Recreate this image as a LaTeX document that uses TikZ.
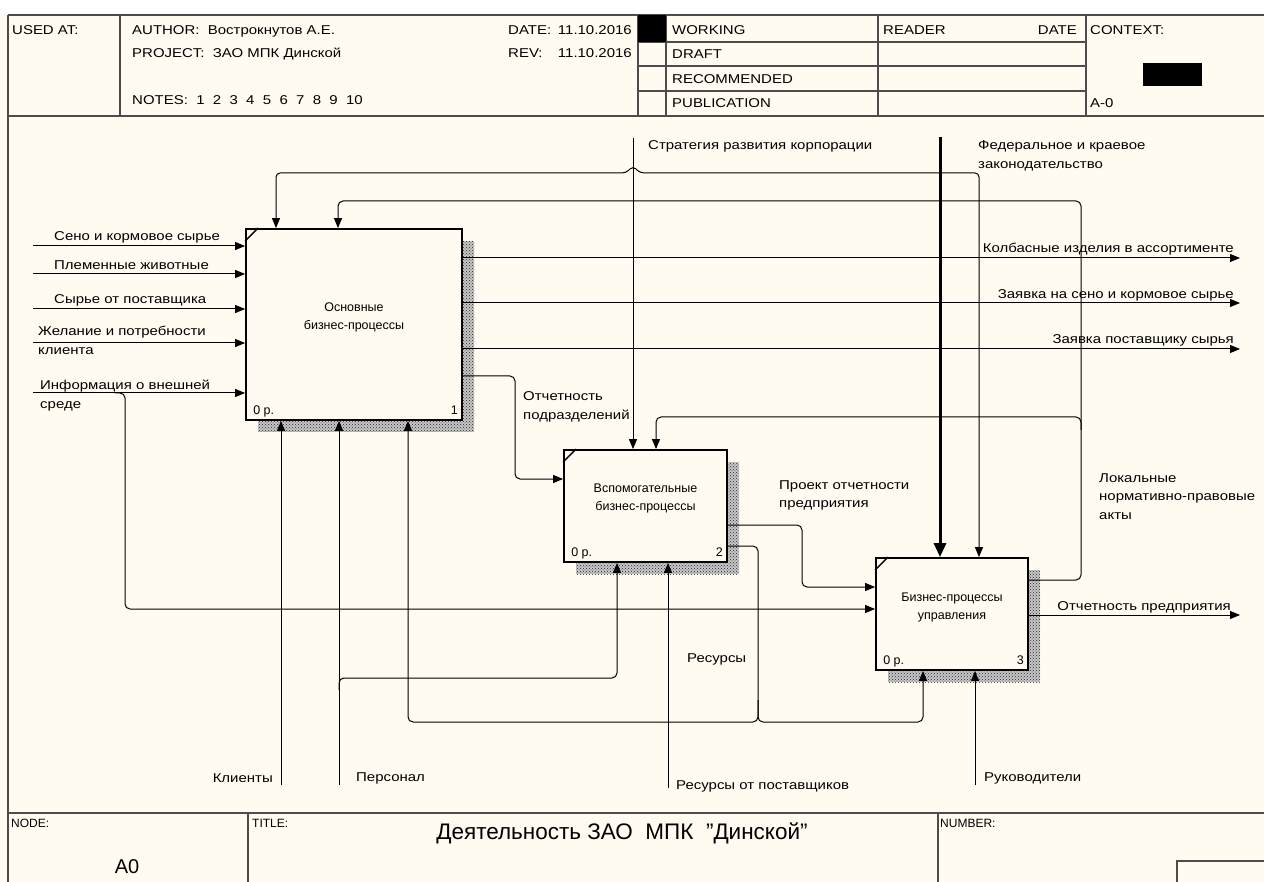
\documentclass[tikz,border=0pt]{standalone}
\usepackage{fontspec}
\setmainfont{Liberation Sans}
\newfontfamily\lblfont[FakeStretch=1.17]{Liberation Sans}
\usetikzlibrary{arrows.meta,patterns,shadows}
\definecolor{idefbg}{RGB}{255,251,240}
\tikzset{
  idefbox/.style={draw, line width=1.8pt, fill=idefbg, inner sep=0pt,
    general shadow={shadow xshift=12pt, shadow yshift=-12pt, fill=black!22},
    general shadow={shadow xshift=12pt, shadow yshift=-12pt, pattern=crosshatch dots, pattern color=black!85}},
  boxtext/.style={font=\fontsize{12.5}{18}\selectfont, align=center, inner sep=0pt},
  lbl/.style={font=\lblfont\fontsize{12.8}{18.5}\selectfont, inner sep=0pt, align=left},
  arr/.style={line width=1pt, -{Triangle[length=10pt,width=8pt]}},
  arrboth/.style={line width=1pt, {Triangle[length=10pt,width=8pt]}-{Triangle[length=10pt,width=8pt]}},
  bigarr/.style={line width=3pt, -{Triangle[length=14pt,width=12pt]}},
  frameline/.style={line width=1.3pt, draw=black!70}
}
\begin{document}
\begin{tikzpicture}[x=1pt, y=-1pt]
\useasboundingbox (0,0) rectangle (1264,882);
\fill[white] (0,0) rectangle (1264,13);
\fill[idefbg] (0,13) rectangle (1264,882);

% header
\draw[frameline] (8,15) -- (1264,15);
\draw[frameline] (8,116) -- (1264,116);
\draw[frameline] (8,15) -- (8,882);
\draw[frameline] (120,15) -- (120,116);
\draw[frameline] (638,15) -- (638,116);
\draw[frameline] (666,15) -- (666,116);
\draw[frameline] (878,15) -- (878,116);
\draw[frameline] (1086,15) -- (1086,116);
\draw[frameline] (638,42) -- (1086,42);
\draw[frameline] (638,66) -- (1086,66);
\draw[frameline] (638,91) -- (1086,91);
\fill (638,15) rectangle (666,42);
\fill (1143,63) rectangle (1202,86);
\node[lbl, anchor=base west] (usedat) at (12,34.5) {USED AT:};
\node[lbl, anchor=base west] (author) at (132,34.5) {AUTHOR:\ \ Вострокнутов А.Е.};
\node[lbl, anchor=base west] (project) at (132,57.5) {PROJECT:\ \ ЗАО МПК Динской};
\node[lbl, anchor=base west] (notes) at (132,104.5) {NOTES:\ \ 1\ \ 2\ \ 3\ \ 4\ \ 5\ \ 6\ \ 7\ \ 8\ \ 9\ \ 10};
\node[lbl, anchor=base west] (datel) at (508,34.5) {DATE:};
\node[lbl, anchor=base east] (datev) at (632,34.5) {11.10.2016};
\node[lbl, anchor=base west] (revl) at (508,57.5) {REV:};
\node[lbl, anchor=base east] (revv) at (632,57.5) {11.10.2016};
\node[lbl, anchor=base west] (working) at (672,34.5) {WORKING};
\node[lbl, anchor=base west] (draft) at (672,58.5) {DRAFT};
\node[lbl, anchor=base west] (recom) at (672,83.5) {RECOMMENDED};
\node[lbl, anchor=base west] (publ) at (672,107.5) {PUBLICATION};
\node[lbl, anchor=base west] (reader) at (883,34.5) {READER};
\node[lbl, anchor=base east] (rdate) at (1077,34.5) {DATE};
\node[lbl, anchor=base west] (context) at (1090,34.5) {CONTEXT:};
\node[lbl, anchor=base west] (aminus) at (1090,107.5) {A-0};

% footer
\draw[frameline] (8,813) -- (1264,813);
\draw[frameline] (248,813) -- (248,882);
\draw[frameline] (938,813) -- (938,882);
\draw[frameline] (1177,882) -- (1177,861) -- (1264,861);
\node[lbl, anchor=base west, font=\fontsize{12}{14}\selectfont] (nodel) at (11,827) {NODE:};
\node[lbl, anchor=base west, font=\fontsize{12}{14}\selectfont] (titlel) at (252,827) {TITLE:};
\node[lbl, anchor=base west, font=\fontsize{12}{14}\selectfont] (numberl) at (940,827) {NUMBER:};
\node[anchor=base, inner sep=0pt, font=\fontsize{22.5}{26}\selectfont] (title) at (622,839) {Деятельность ЗАО\ \ МПК\ \ \char"22 Динской\char"22};
\node[anchor=base, inner sep=0pt, font=\fontsize{20}{24}\selectfont] (nodeno) at (127,873) {A0};

% boxes
\node[idefbox, minimum width=216pt, minimum height=191pt] (osn) at (354,324.5) {};
\node[idefbox, minimum width=163pt, minimum height=112pt] (vsp) at (645.5,506) {};
\node[idefbox, minimum width=152pt, minimum height=112pt] (upr) at (952,614) {};
\foreach \b in {osn,vsp,upr}
  \draw[line width=1.4pt] ([yshift=-13pt]\b.north west) -- ([xshift=13pt]\b.north west);
\node[boxtext] (osntxt) at ([yshift=7pt]osn.center) {Основные\\бизнес-процессы};
\node[boxtext] (vsptxt) at ([yshift=8pt]vsp.center) {Вспомогательные\\бизнес-процессы};
\node[boxtext] (uprtxt) at ([yshift=7pt]upr.center) {Бизнес-процессы\\управления};
\node[boxtext, anchor=base west] (osnp) at ([xshift=8pt, yshift=6pt]osn.south west) {0 р.};
\node[boxtext, anchor=base east] (osnn) at ([xshift=-5pt, yshift=6pt]osn.south east) {1};
\node[boxtext, anchor=base west] (vspp) at ([xshift=8pt, yshift=6pt]vsp.south west) {0 р.};
\node[boxtext, anchor=base east] (vspn) at ([xshift=-5pt, yshift=6pt]vsp.south east) {2};
\node[boxtext, anchor=base west] (uprp) at ([xshift=8pt, yshift=6pt]upr.south west) {0 р.};
\node[boxtext, anchor=base east] (uprn) at ([xshift=-5pt, yshift=6pt]upr.south east) {3};

% free ends
\coordinate (seno) at (33,246);
\coordinate (plem) at (33,274);
\coordinate (syr) at (33,309);
\coordinate (zhel) at (33,343);
\coordinate (info) at (33,393);
\coordinate (kolb) at (1240,258);
\coordinate (zsen) at (1240,303);
\coordinate (zpost) at (1240,349);
\coordinate (otch) at (1240,615);
\coordinate (strat) at (633,138);
\coordinate (fed) at (940,137);
\coordinate (klient) at (281,785);
\coordinate (pers) at (339,785);
\coordinate (respost) at (668,788);
\coordinate (ruk) at (975,785);

% inputs
\draw[arr] (seno) -- (seno -| osn.west);
\draw[arr] (plem) -- (plem -| osn.west);
\draw[arr] (syr) -- (syr -| osn.west);
\draw[arr] (zhel) -- (zhel -| osn.west);
\draw[arr] (info) -- (info -| osn.west);
\draw[arr, rounded corners=5pt] (info -| 115,0) -- (info -| 125,0) -- (125,609) -- (upr.west |- 0,609);

% outputs
\draw[arr] (kolb -| osn.east) -- (kolb);
\draw[arr] (zsen -| osn.east) -- (zsen);
\draw[arr] (zpost -| osn.east) -- (zpost);
\draw[arr] (otch -| upr.east) -- (otch);
\draw[arr, rounded corners=5pt] (osn.east |- 0,376) -- (515,376) -- (515,479) -- (vsp.west |- 0,479);
\draw[arr, rounded corners=5pt] (vsp.east |- 0,525) -- (802,525) -- (802,587) -- (upr.west |- 0,587);
\draw[arr, rounded corners=5pt] (upr.east |- 0,580) -- (1081,580) -- (1081,201) -- (338,201) -- (osn.north -| 338,0);
\draw[arr, rounded corners=5pt] (1081,430) -- (1081,417) -- (656,417) -- (vsp.north -| 656,0);
\draw[arr, rounded corners=5pt] (vsp.east |- 0,546) -- (758,546) -- (758,722) -- (408,722) -- (osn.south -| 408,0);
\draw[arr, rounded corners=5pt] (758,700) -- (758,722) -- (923,722) -- (upr.south -| 923,0);

% controls
\draw[arr] (strat) -- (vsp.north -| strat);
\draw[bigarr] (fed) -- (upr.north -| fed);
\draw[arrboth, rounded corners=4pt] (osn.north -| 276,0) -- (276,173) -- (626,173) -- (633,166) -- (640,173) -- (979,173) -- (upr.north -| 979,0);

% mechanisms
\draw[arr] (klient) -- (osn.south -| klient);
\draw[arr] (pers) -- (osn.south -| pers);
\draw[arr, rounded corners=5pt] (339,690) -- (339,678) -- (617,678) -- (vsp.south -| 617,0);
\draw[arr] (respost) -- (vsp.south -| respost);
\draw[arr] (ruk) -- (upr.south -| ruk);

% labels (base = last line)
\node[lbl, anchor=base west] (lseno) at (54,241) {Сено и кормовое сырье};
\node[lbl, anchor=base west] (lplem) at (54,270) {Племенные животные};
\node[lbl, anchor=base west] (lsyr) at (54,304) {Сырье от поставщика};
\node[lbl, anchor=base west] (lzhel) at (38,354.5) {Желание и потребности\\клиента};
\node[lbl, anchor=base west] (linfo) at (40,408.5) {Информация о внешней\\среде};
\node[lbl, anchor=base west] (lstrat) at (648,150) {Стратегия развития корпорации};
\node[lbl, anchor=base west] (lfed) at (978,168.5) {Федеральное и краевое\\законодательство};
\node[lbl, anchor=base east] (lkolb) at (1234,253) {Колбасные изделия в ассортименте};
\node[lbl, anchor=base east] (lzsen) at (1234,299) {Заявка на сено и кормовое сырье};
\node[lbl, anchor=base east] (lzpost) at (1234,344) {Заявка поставщику сырья};
\node[lbl, anchor=base west] (lpodr) at (523,419.5) {Отчетность\\подразделений};
\node[lbl, anchor=base west] (lproekt) at (779,507.5) {Проект отчетности\\предприятия};
\node[lbl, anchor=base west] (llok) at (1099,519) {Локальные\\нормативно-правовые\\акты};
\node[lbl, anchor=base east] (lotch) at (1231,610) {Отчетность предприятия};
\node[lbl, anchor=base west] (lres) at (687,662) {Ресурсы};
\node[lbl, anchor=base east] (lklient) at (273,782) {Клиенты};
\node[lbl, anchor=base west] (lpers) at (356,781) {Персонал};
\node[lbl, anchor=base west] (lrespost) at (676,789) {Ресурсы от поставщиков};
\node[lbl, anchor=base west] (lruk) at (984,781) {Руководители};
\end{tikzpicture}
\end{document}
